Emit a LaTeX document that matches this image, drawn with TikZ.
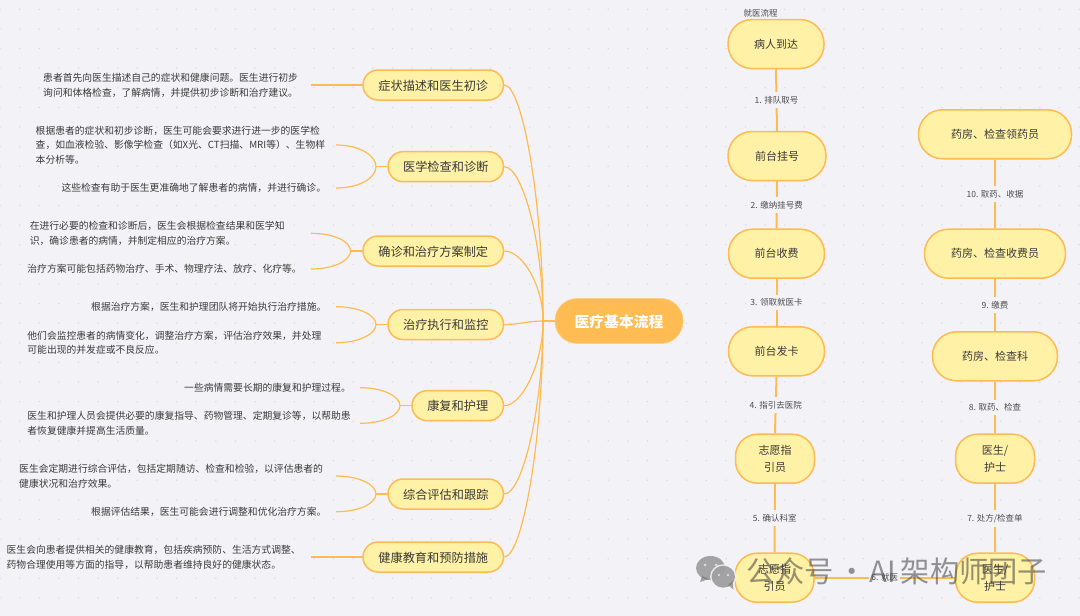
\documentclass[tikz,border=0pt]{standalone}
\usepackage{fontspec}
\setmainfont{Noto Sans CJK SC}
\definecolor{bg}{HTML}{F3F3F7}
\definecolor{griddot}{HTML}{D9D9DD}
\definecolor{nodefill}{HTML}{FFF1A6}
\definecolor{nodeline}{HTML}{FFBA52}
\definecolor{hubfill}{HTML}{FFBC52}
\definecolor{txt}{HTML}{3A3A3A}
\definecolor{edgetxt}{HTML}{4D4D4D}
\tikzset{
  x=1pt,y=-1pt,
  note/.style={anchor=west,inner sep=0pt,align=left,text=txt,font=\fontsize{9.8}{14.7}\selectfont},
  topic/.style={draw=nodeline,fill=nodefill,line width=1.5pt,rounded corners=15pt,minimum height=30pt,inner sep=0pt,text depth=0pt,text=txt,font=\fontsize{12.2}{14}\selectfont},
  hub/.style={draw=nodeline!70,fill=hubfill,line width=.6pt,rounded corners=22pt,minimum height=45pt,minimum width=128pt,inner sep=0pt,text depth=0pt,text=white,font=\fontsize{14.8}{17}\selectfont\bfseries},
  flow/.style={draw=nodeline,fill=nodefill,line width=1.5pt,rounded corners=24pt,minimum height=49pt,inner sep=0pt,align=center,text=txt,font=\fontsize{11}{16.5}\selectfont},
  small/.style={flow,rounded corners=22pt},
  branch/.style={draw=nodeline,line width=1.2pt},
  flowline/.style={draw=nodeline,line width=2pt},
  lab/.style={fill=bg,inner sep=0pt,inner ysep=4pt,inner xsep=2pt,text=edgetxt,font=\fontsize{8.5}{10}\selectfont},
}
\begin{document}
\begin{tikzpicture}
\useasboundingbox (0,0) rectangle (1080,616);
\fill[bg] (0,0) rectangle (1080,616);
\foreach \i in {0,...,55}{\foreach \j in {0,...,31}{
  \fill[griddot] ({\i*19.62},{9.3+\j*19.62}) circle (.75);}}

% branch ends
\coordinate (hb) at (543,321);
\coordinate (e1) at (311,85);
\coordinate (e2) at (376,166.7);
\coordinate (e2a) at (336,145);
\coordinate (e2b) at (336,188);
\coordinate (e3) at (350.5,251);
\coordinate (e3a) at (311,233.3);
\coordinate (e3b) at (311,269);
\coordinate (e4) at (376,324.5);
\coordinate (e4a) at (336,306.7);
\coordinate (e4b) at (336,342.7);
\coordinate (e5) at (400,405.7);
\coordinate (e5a) at (360,387.7);
\coordinate (e5b) at (360,423.3);
\coordinate (e6) at (376,494);
\coordinate (e6a) at (336,476);
\coordinate (e6b) at (336,511.7);
\coordinate (e7) at (311,557);

% mind map nodes
\node[hub] (hub) at (619,321) {医疗基本流程};
\node[topic,minimum width=140.5pt] (t1) at (433.25,85) {症状描述和医生初诊};
\node[topic,minimum width=115.5pt] (t2) at (445.75,166.7) {医学检查和诊断};
\node[topic,minimum width=140.5pt] (t3) at (433.25,251) {确诊和治疗方案制定};
\node[topic,minimum width=115.5pt] (t4) at (445.75,324.5) {治疗执行和监控};
\node[topic,minimum width=91.5pt] (t5) at (457.75,405.7) {康复和护理};
\node[topic,minimum width=115.5pt] (t6) at (445.75,494) {综合评估和跟踪};
\node[topic,minimum width=140.5pt] (t7) at (433.25,557) {健康教育和预防措施};

% notes
\node[note] (n1) at (43,85.3) {患者首先向医生描述自己的症状和健康问题。医生进行初步\\询问和体格检查，了解病情，并提供初步诊断和治疗建议。};
\node[note] (n2a) at (35.5,145) {根据患者的症状和初步诊断，医生可能会要求进行进一步的医学检\\查，如血液检验、影像学检查（如X光、CT扫描、MRI等）、生物样\\本分析等。};
\node[note] (n2b) at (61.3,188) {这些检查有助于医生更准确地了解患者的病情，并进行确诊。};
\node[note] (n3a) at (29.6,233.5) {在进行必要的检查和诊断后，医生会根据检查结果和医学知\\识，确诊患者的病情，并制定相应的治疗方案。};
\node[note] (n3b) at (27.2,269) {治疗方案可能包括药物治疗、手术、物理疗法、放疗、化疗等。};
\node[note] (n4a) at (91,306.7) {根据治疗方案，医生和护理团队将开始执行治疗措施。};
\node[note] (n4b) at (27.2,342.7) {他们会监控患者的病情变化，调整治疗方案，评估治疗效果，并处理\\可能出现的并发症或不良反应。};
\node[note] (n5a) at (184,388) {一些病情需要长期的康复和护理过程。};
\node[note] (n5b) at (27.2,423.5) {医生和护理人员会提供必要的康复指导、药物管理、定期复诊等，以帮助患\\者恢复健康并提高生活质量。};
\node[note] (n6a) at (19,476.3) {医生会定期进行综合评估，包括定期随访、检查和检验，以评估患者的\\健康状况和治疗效果。};
\node[note] (n6b) at (91,511.7) {根据评估结果，医生可能会进行调整和优化治疗方案。};
\node[note] (n7) at (6.5,557.3) {医生会向患者提供相关的健康教育，包括疾病预防、生活方式调整、\\药物合理使用等方面的指导，以帮助患者维持良好的健康状态。};

\draw[branch] (hub.west) -- (hb);
\draw[branch] (t1.east) .. controls +(18,0) and +(0,-120) .. (hb);
\draw[branch] (t2.east) .. controls +(18,0) and +(0,-80) .. (hb);
\draw[branch] (t3.east) .. controls +(18,0) and +(0,-36) .. (hb);
\draw[branch] (t4.east) .. controls +(15,0) and +(-15,0) .. (hb);
\draw[branch] (t5.east) .. controls +(18,0) and +(0,42) .. (hb);
\draw[branch] (t6.east) .. controls +(18,0) and +(0,88) .. (hb);
\draw[branch] (t7.east) .. controls +(18,0) and +(0,120) .. (hb);

\draw[branch] (t1.west) -- (e1);
\draw[branch] (t7.west) -- (e7);
\draw[branch] (t2.west) -- (e2);
\draw[branch] (e2a) .. controls +(24,0) and +(0,-11) .. (e2) .. controls +(0,11) and +(24,0) .. (e2b);
\draw[branch] (t3.west) -- (e3);
\draw[branch] (e3a) .. controls +(24,0) and +(0,-9) .. (e3) .. controls +(0,9) and +(24,0) .. (e3b);
\draw[branch] (t4.west) -- (e4);
\draw[branch] (e4a) .. controls +(24,0) and +(0,-9) .. (e4) .. controls +(0,9) and +(24,0) .. (e4b);
\draw[branch] (t5.west) -- (e5);
\draw[branch] (e5a) .. controls +(24,0) and +(0,-9) .. (e5) .. controls +(0,9) and +(24,0) .. (e5b);
\draw[branch] (t6.west) -- (e6);
\draw[branch] (e6a) .. controls +(24,0) and +(0,-9) .. (e6) .. controls +(0,9) and +(24,0) .. (e6b);

% flow chart nodes
\node[anchor=center,inner sep=0pt,text=edgetxt,font=\fontsize{8.5}{10}\selectfont] (title) at (760.7,13) {就医流程};
\node[flow,minimum width=96pt] (f1) at (776,44) {病人到达};
\node[flow,minimum width=98pt] (f2) at (777,156) {前台挂号};
\node[flow,minimum width=96pt] (f3) at (776.5,253.7) {前台收费};
\node[flow,minimum width=96pt] (f4) at (776.5,351.3) {前台发卡};
\node[small,minimum width=79pt] (f5) at (775,458.7) {志愿指\\引员};
\node[small,minimum width=79pt] (f6) at (774.5,577.7) {志愿指\\引员};
\node[small,minimum width=79pt] (f7) at (995,577.7) {医生/\\护士};
\node[small,minimum width=79pt] (f8) at (995,458.7) {医生/\\护士};
\node[flow,minimum width=125pt] (f9) at (995,356.3) {药房、检查科};
\node[flow,minimum width=141pt] (f10) at (995,253.7) {药房、检查收费员};
\node[flow,minimum width=153pt] (f11) at (995,134.3) {药房、检查领药员};

\draw[flowline] (f1.south) -- node[lab,midway]{1. 排队取号} (f2.north);
\draw[flowline] (f2.south) -- node[lab,midway]{2. 缴纳挂号费} (f3.north);
\draw[flowline] (f3.south) -- node[lab,midway]{3. 领取就医卡} (f4.north);
\draw[flowline] (f4.south) -- node[lab,midway]{4. 指引去医院} (f5.north);
\draw[flowline] (f5.south) -- node[lab,midway]{5. 确认科室} (f6.north);
\draw[flowline] (f6.east) -- node[lab,midway]{6. 就医} (f7.west);
\draw[flowline] (f7.north) -- node[lab,midway]{7. 处方/检查单} (f8.south);
\draw[flowline] (f8.north) -- node[lab,midway]{8. 取药、检查} (f9.south);
\draw[flowline] (f9.north) -- node[lab,midway]{9. 缴费} (f10.south);
\draw[flowline] (f10.north) -- node[lab,midway]{10. 取药、收据} (f11.south);

% watermark
\begin{scope}[opacity=.62]
\fill[black!55] (710.5,568) ellipse (14.5 and 12);
\fill[black!55] (702,576) -- (700,582) -- (709,579) -- cycle;
\end{scope}
\fill[bg,opacity=.9] (723.3,576.7) ellipse (13.2 and 12.4);
\begin{scope}[opacity=.62]
\fill[black!55] (723.3,576.7) ellipse (11.7 and 11);
\fill[black!55] (728,585) -- (733.5,589.5) -- (732.5,581) -- cycle;
\end{scope}
\fill[bg,opacity=.7] (705,565) circle (1.5) (716,565) circle (1.5) (719,575) circle (1.3) (728,575) circle (1.3);
\node[anchor=west,inner sep=0pt,opacity=.55,text=black!75,font=\fontsize{29.3}{32}\selectfont] (wm) at (746,571) {公众号\kern3pt·\kern3pt AI\kern5pt 架构师团子};
\end{tikzpicture}
\end{document}
